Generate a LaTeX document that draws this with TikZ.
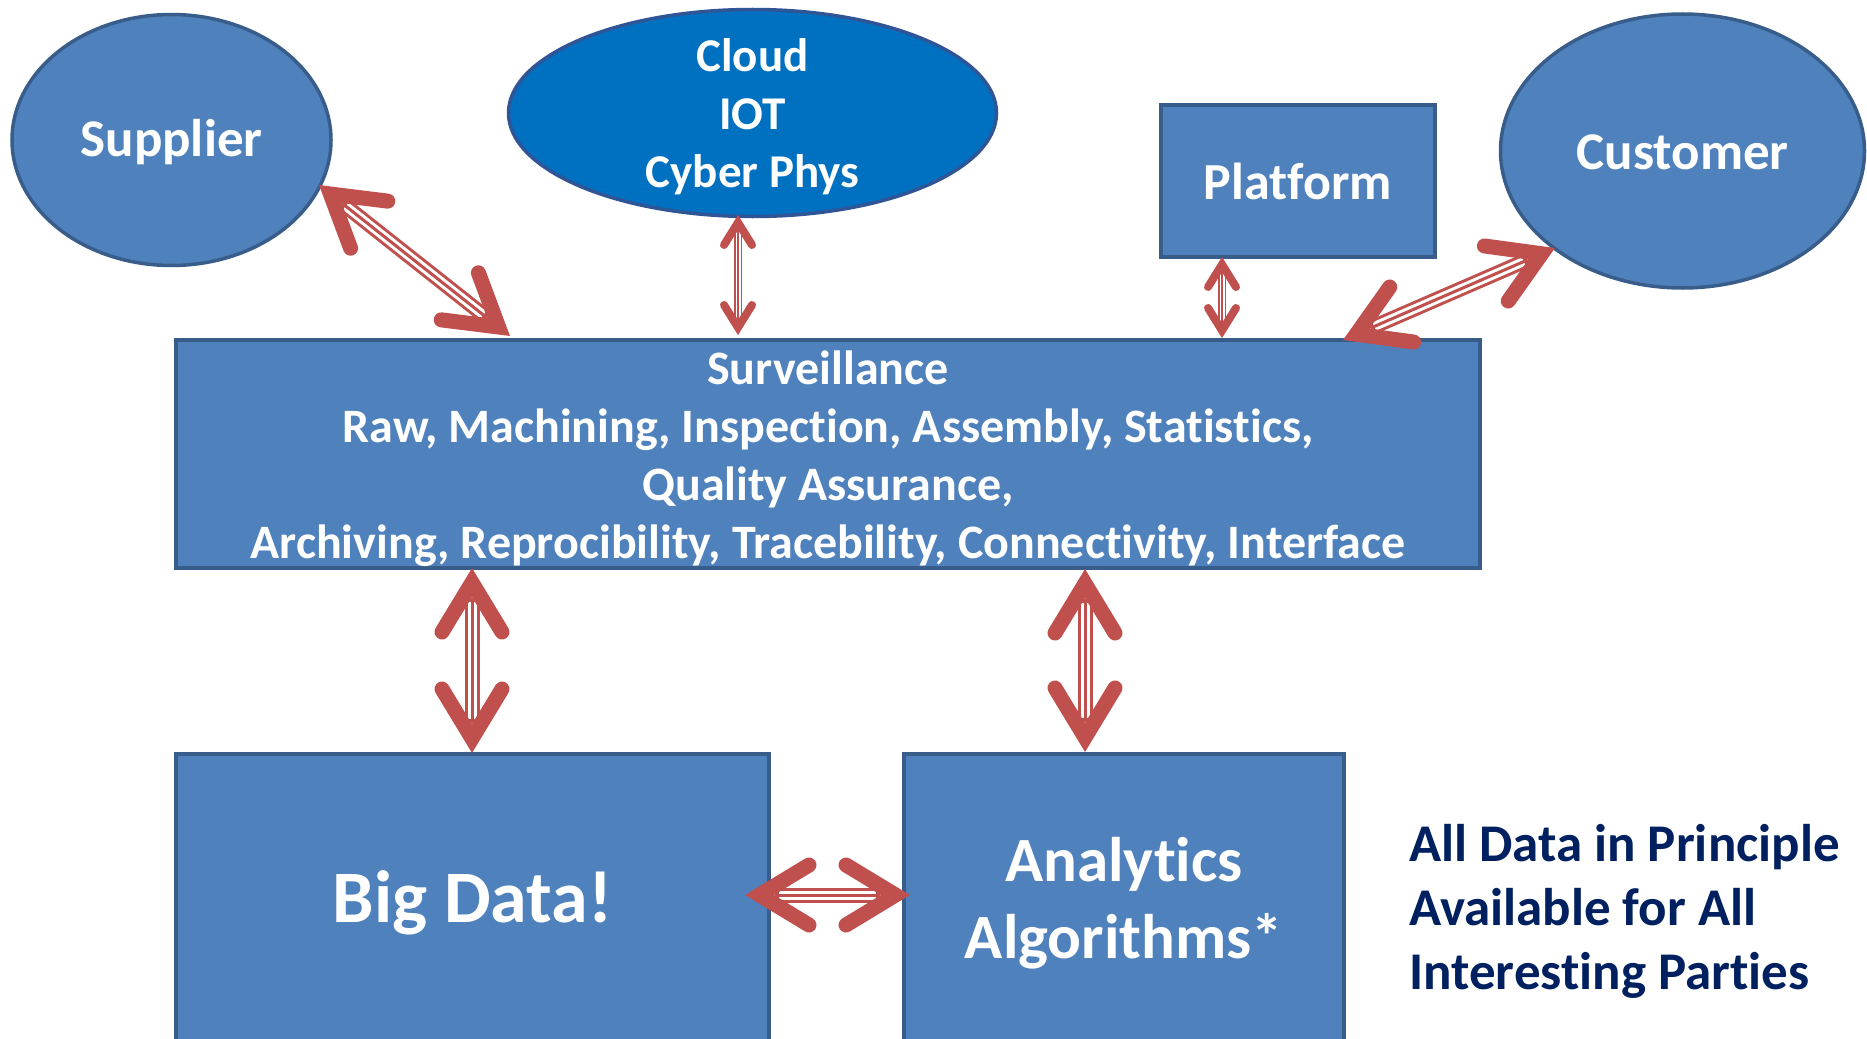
\documentclass[tikz,border=0pt]{standalone}
\usepackage{fontspec}
\setmainfont{Carlito}[Ligatures={NoCommon}]
\usetikzlibrary{shapes.geometric,calc}
\definecolor{boxblue}{HTML}{4F81BD}
\definecolor{edgeblue}{HTML}{385D8A}
\definecolor{cloudblue}{HTML}{0070C0}
\definecolor{cloudedge}{HTML}{2F5597}
\definecolor{arrowred}{HTML}{C0504D}
\definecolor{navy}{HTML}{002060}
\tikzset{
  blob/.style={ellipse, fill=boxblue, draw=edgeblue, line width=3.5pt, inner sep=0pt},
  panel/.style={rectangle, fill=boxblue, draw=edgeblue, line width=4pt, inner sep=0pt, text=white, align=center},
  wtext/.style={text=white, align=center, inner sep=0pt},
  shaftbig/.style={draw=arrowred, line width=15pt, shorten <=30pt, shorten >=30pt},
  stripebig/.style={draw=white, line width=9pt, shorten <=34pt, shorten >=34pt},
  corebig/.style={draw=arrowred, line width=3pt, shorten <=30pt, shorten >=30pt},
  shaftsmall/.style={draw=arrowred, line width=8pt, shorten <=14pt, shorten >=14pt},
  stripesmall/.style={draw=white, line width=5pt, shorten <=17pt, shorten >=17pt},
  coresmall/.style={draw=arrowred, line width=1.6pt, shorten <=14pt, shorten >=14pt},
  pics/ahead/.style n args={5}{code={
    \draw[arrowred, line width=#5, line cap=round, line join=miter]
      ({-1*(#1)*(#2)},#3) -- ({-1*(#1)*(#4)},0) -- ({-1*(#1)*(#2)},-#3);}},
}
\newcommand\dbarrow[3]{%
  \draw[shaft#3] (#1) -- (#2);
  \draw[stripe#3] (#1) -- (#2);
  \draw[core#3] (#1) -- (#2);
}
\newcommand\bigheads[2]{%
  \path (#1) -- (#2)
    pic[pos=0, sloped, allow upside down]{ahead={-1}{64}{30}{14.5}{15pt}}
    pic[pos=1, sloped, allow upside down]{ahead={1}{64}{30}{14.5}{15pt}};
}
\newcommand\smallheads[2]{%
  \path (#1) -- (#2)
    pic[pos=0, sloped, allow upside down]{ahead={-1}{30}{14}{7.5}{8pt}}
    pic[pos=1, sloped, allow upside down]{ahead={1}{30}{14}{7.5}{8pt}};
}
\begin{document}
\begin{tikzpicture}[x=1pt, y=-1pt]
\useasboundingbox (0,0) rectangle (1867,1038);
\clip (0,0) rectangle (1867,1038);

% shapes
\node[blob, minimum width=319pt, minimum height=251pt] (sup) at (171.5,140) {};
\node[blob, fill=cloudblue, draw=cloudedge, minimum width=488pt, minimum height=207pt] (cloud) at (752.5,113) {};
\node[panel, minimum width=274pt, minimum height=152pt] (plat) at (1298,181) {};
\node[blob, minimum width=364pt, minimum height=274pt] (cust) at (1682.5,151) {};
\node[panel, minimum width=1304pt, minimum height=228pt] (surv) at (828,454) {};
\node[panel, minimum width=593pt, minimum height=298pt, font=\bfseries\fontsize{74}{88}\selectfont] (big) at (472.5,903) {Big Data!};
\node[panel, minimum width=440pt, minimum height=298pt, font=\bfseries\fontsize{63}{77}\selectfont] (ana) at (1124,903) {Analytics\\Algorithms*};

% texts
\node[wtext, font=\bfseries\fontsize{53}{64}\selectfont] (suptxt) at ([yshift=-2pt]sup.center) {Supplier};
\node[wtext, font=\bfseries\fontsize{47}{58}\selectfont] (cloudtxt) at ([yshift=-4pt]cloud.center) {Cloud\\IOT\\Cyber Phys};
\node[wtext, font=\bfseries\fontsize{52}{64}\selectfont] (plattxt) at (plat.center) {Platform};
\node[wtext, font=\bfseries\fontsize{53}{64}\selectfont] (custtxt) at ([yshift=-1pt]cust.center) {Customer};
\node[wtext, font=\bfseries\fontsize{48}{58}\selectfont] (survtxt) at ([yshift=-5pt]surv.center) {Surveillance\\Raw, Machining, Inspection, Assembly, Statistics,\\Quality Assurance,\\Archiving, Reprocibility, Tracebility, Connectivity, Interface};
\node[anchor=west, align=left, text=navy, inner sep=0pt, font=\bfseries\fontsize{53}{64}\selectfont] (note) at (1409,911) {All Data in Principle\\Available for All\\Interesting Parties};

% connector end points
\coordinate (supE) at (319,185);
\coordinate (survSup) at (510,336);
\coordinate (cloudE) at (738,215);
\coordinate (survCloud) at (738,335);
\coordinate (platE) at (1222,257);
\coordinate (survPlat) at (1222,338);
\coordinate (survCust) at (1343,340);
\coordinate (custE) at (1555,248);
\coordinate (survBig) at (472,568);
\coordinate (bigE) at (472,753);
\coordinate (survAna) at (1085,569);
\coordinate (anaE) at (1085,752);
\coordinate (bigR) at (745,895);
\coordinate (anaL) at (910,895);

% connectors
\dbarrow{supE}{survSup}{big}\bigheads{supE}{survSup}
\dbarrow{cloudE}{survCloud}{small}\smallheads{cloudE}{survCloud}
\dbarrow{platE}{survPlat}{small}\smallheads{platE}{survPlat}
\dbarrow{survCust}{custE}{big}\bigheads{survCust}{custE}
\dbarrow{survBig}{bigE}{big}\bigheads{survBig}{bigE}
\dbarrow{survAna}{anaE}{big}\bigheads{survAna}{anaE}
\dbarrow{bigR}{anaL}{big}\bigheads{bigR}{anaL}
\end{tikzpicture}
\end{document}
